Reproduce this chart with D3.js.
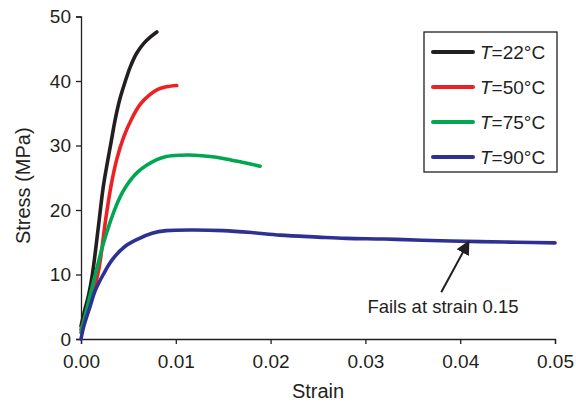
<!DOCTYPE html>
<html>
<head>
<meta charset="utf-8">
<script src="https://cdn.jsdelivr.net/npm/d3@7"></script>
<style>
  html, body { margin: 0; padding: 0; background: #fff; }
  svg { display: block; font-family: "Liberation Sans", Arial, sans-serif; }
</style>
</head>
<body>
<svg id="chart" width="576" height="406"></svg>
<script>
// ---- Data ----
const seriesNames = ["22", "50", "75", "90"];
const seriesColors = ["#231f20", "#ed2024", "#00a651", "#2e3192"];

const strain22 = [0, 0.0004, 0.0008, 0.0012, 0.0018, 0.00235, 0.0028, 0.00316, 0.00359, 0.0041, 0.00464, 0.0052, 0.00587, 0.0066, 0.0073, 0.0080];
const stress22 = [2.0, 4.5, 6.8, 10.0, 17.0, 23.6, 27.5, 30.4, 33.9, 37.2, 39.8, 42.2, 44.3, 45.8, 46.8, 47.6];

const strain50 = [0, 0.0005, 0.0011, 0.0019, 0.0026, 0.0032, 0.0038, 0.0045, 0.0053, 0.0062, 0.0072, 0.0081, 0.0090, 0.0101];
const stress50 = [1.5, 3.5, 6.0, 11.0, 18.5, 24.0, 28.0, 31.3, 34.0, 36.3, 37.8, 38.7, 39.1, 39.3];

const strain75 = [0, 0.0005, 0.0010, 0.0016, 0.0023, 0.0030, 0.0037, 0.0044, 0.0052, 0.0060, 0.0070, 0.0080, 0.0090, 0.0105, 0.0120, 0.0136, 0.0150, 0.0170, 0.0189];
const stress75 = [1.0, 4.0, 7.0, 10.5, 14.5, 17.8, 20.6, 22.8, 24.6, 25.9, 27.0, 27.8, 28.3, 28.5, 28.5, 28.3, 28.0, 27.4, 26.8];

const strain90 = [0, 0.0003, 0.00095, 0.0015, 0.00235, 0.0033, 0.0046, 0.0060, 0.0075, 0.0090, 0.0120, 0.0150, 0.0180, 0.0210, 0.0250, 0.0280, 0.0320, 0.0360, 0.0421, 0.0460, 0.0500];
const stress90 = [0, 2.0, 5.0, 7.5, 10.0, 12.3, 14.3, 15.5, 16.4, 16.8, 16.9, 16.8, 16.5, 16.1, 15.8, 15.6, 15.5, 15.3, 15.1, 15.0, 14.9];

const xTicks = [0, 0.01, 0.02, 0.03, 0.04, 0.05];
const yTicks = [0, 10, 20, 30, 40, 50];
const annotationText = "Fails at strain 0.15";
const annotationPoint = [0.0409, 15.1];   // arrow tip (data coords)
const annotationTail = [0.0380, 7.25];    // arrow tail (data coords)

// ---- Layout ----
const svg = d3.select("#chart");
const margin = { left: 81, right: 21, top: 16.5, bottom: 67 };
const W = 576, H = 406;
const x = d3.scaleLinear().domain([0, 0.05]).range([margin.left, W - margin.right]);
const y = d3.scaleLinear().domain([0, 50]).range([H - margin.bottom, margin.top]);

const fontSize = 19;

// Axes
const xAxis = d3.axisBottom(x).tickValues(xTicks).tickFormat(d3.format(".2f")).tickSizeOuter(0).tickSize(5).tickPadding(6);
const yAxis = d3.axisLeft(y).tickValues(yTicks).tickFormat(d3.format("d")).tickSizeOuter(0).tickSize(5).tickPadding(5);

const gx = svg.append("g").attr("transform", `translate(0,${y(0)})`).call(xAxis);
const gy = svg.append("g").attr("transform", `translate(${x(0)},0)`).call(yAxis);
[gx, gy].forEach(g => {
  g.selectAll("path.domain").attr("stroke", "#231f20").attr("stroke-width", 1.3);
  g.selectAll(".tick line").attr("stroke", "#231f20").attr("stroke-width", 1.3);
  g.selectAll(".tick text").attr("fill", "#231f20").style("font-size", fontSize + "px").style("font-family", "'Liberation Sans', Arial, sans-serif");
});
gx.selectAll(".tick text").attr("dy", "0.95em");

// Axis titles
svg.append("text").attr("x", (x(0) + x(0.05)) / 2).attr("y", 398)
  .attr("text-anchor", "middle").attr("fill", "#231f20").style("font-size", "20px").text("Strain");
svg.append("text").attr("transform", `translate(30,${(y(0) + y(50)) / 2 + 8}) rotate(-90)`)
  .attr("text-anchor", "middle").attr("fill", "#231f20").style("font-size", "20px").text("Stress (MPa)");

// Lines
const seriesData = [
  d3.zip(strain22, stress22),
  d3.zip(strain50, stress50),
  d3.zip(strain75, stress75),
  d3.zip(strain90, stress90)
];
const line = d3.line().x(d => x(d[0])).y(d => y(d[1])).curve(d3.curveCatmullRom.alpha(0.5));
seriesData.forEach((data, i) => {
  svg.append("path").datum(data)
    .attr("fill", "none").attr("stroke", seriesColors[i])
    .attr("stroke-width", 3.6).attr("stroke-linecap", "round").attr("stroke-linejoin", "round")
    .attr("d", line);
});

// Annotation arrow
const defs = svg.append("defs");
defs.append("marker").attr("id", "arrowhead").attr("viewBox", "0 0 10 10")
  .attr("refX", 9).attr("refY", 5).attr("markerWidth", 7).attr("markerHeight", 7)
  .attr("markerUnits", "strokeWidth").attr("orient", "auto")
  .append("path").attr("d", "M0,0 L10,5 L0,10 Z").attr("fill", "#231f20");
svg.append("line")
  .attr("x1", x(annotationTail[0])).attr("y1", y(annotationTail[1]))
  .attr("x2", x(annotationPoint[0])).attr("y2", y(annotationPoint[1]))
  .attr("stroke", "#231f20").attr("stroke-width", 2)
  .attr("marker-end", "url(#arrowhead)");
svg.append("text").attr("x", 443).attr("y", 313).attr("text-anchor", "middle")
  .attr("fill", "#231f20").style("font-size", "18.5px").text(annotationText);

// Legend
const lg = svg.append("g");
lg.append("rect").attr("x", 424).attr("y", 32).attr("width", 133).attr("height", 140)
  .attr("fill", "#fff").attr("stroke", "#231f20").attr("stroke-width", 1.3);
seriesNames.forEach((name, i) => {
  const cy = 52 + i * 35;
  lg.append("line").attr("x1", 433).attr("x2", 473).attr("y1", cy).attr("y2", cy)
    .attr("stroke", seriesColors[i]).attr("stroke-width", 4).attr("stroke-linecap", "round");
  const t = lg.append("text").attr("x", 480).attr("y", cy + 7).attr("fill", "#231f20").style("font-size", "19px");
  t.append("tspan").style("font-style", "italic").text("T");
  t.append("tspan").text("=" + name + "°C");
});
</script>
</body>
</html>
